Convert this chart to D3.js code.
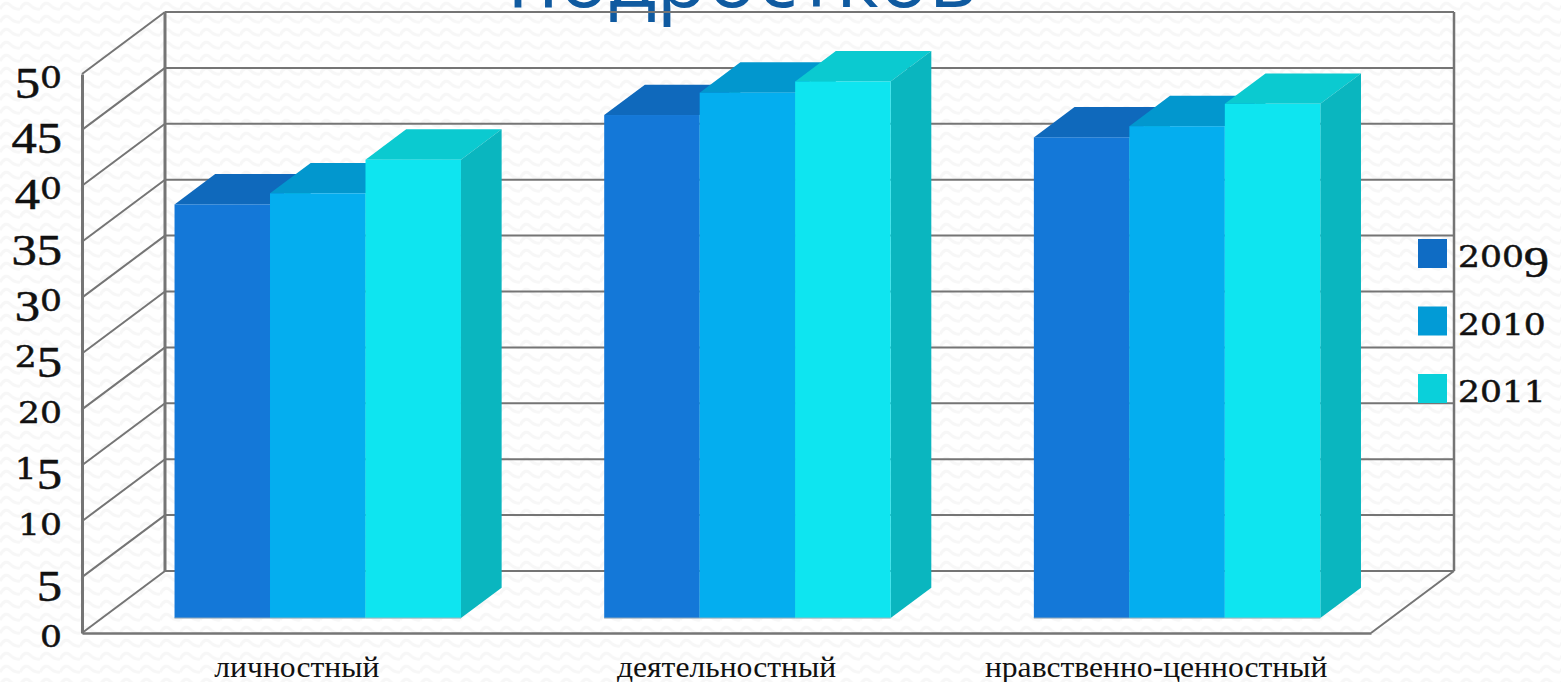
<!DOCTYPE html>
<html>
<head>
<meta charset="utf-8">
<script src="https://cdn.jsdelivr.net/npm/d3@7"></script>
<style>
  html, body { margin: 0; padding: 0; background: #fff; overflow: hidden; }
  svg { display: block; }
  .digits { fill: #111; stroke: #111; stroke-width: 0.5; }
</style>
</head>
<body>
<div id="graph"></div>
<script>
const categories = ["личностный", "деятельностный", "нравственно-ценностный"];
const years = ["2009", "2010", "2011"];
const values2009 = [37, 45, 43];
const values2010 = [38, 47, 44];
const values2011 = [41, 48, 46];
const yTicks = [0, 5, 10, 15, 20, 25, 30, 35, 40, 45, 50];
const titleText = "подростков";

const seriesValues = [values2009, values2010, values2011];
const frontColors = ["#1478d8", "#04aeef", "#0ee5f0"];
const topColors = ["#0f69bc", "#0297ce", "#0bcad0"];
const sideColor = "#0ab6bf";
const legendColors = ["#0f6cc4", "#029bd6", "#0ad0da"];
const gridColor = "#757575";

const width = 1561;
const height = 682;

// 3d box: floor goes back by depthX / depthY
const depthX = 83;
const depthY = 62;
const barZ0 = 0.24;
const barZ1 = 0.73;
const barShift = 1;

const svg = d3.select("#graph").append("svg")
  .attr("width", width)
  .attr("height", height);

// faint zigzag paper background
const pat = svg.append("defs").append("pattern")
  .attr("id", "paper")
  .attr("patternUnits", "userSpaceOnUse")
  .attr("width", 20)
  .attr("height", 13);
pat.append("rect").attr("width", 20).attr("height", 13).attr("fill", "#fff");
pat.append("path")
  .attr("d", "M0 9 Q5 0 10 5 T20 9")
  .attr("fill", "none")
  .attr("stroke", "#f7f7f7")
  .attr("stroke-width", 3);
svg.append("rect").attr("width", width).attr("height", height).attr("fill", "url(#paper)");

const x = d3.scaleBand()
  .domain(categories)
  .range([82, 1371])
  .paddingInner(1 / 3)
  .paddingOuter(1 / 6);

const xSeries = d3.scaleBand()
  .domain(years)
  .range([0, x.bandwidth()]);

const y = d3.scaleLinear()
  .domain([0, 50])
  .range([633, 74]);

const px = (v, z) => v + z * depthX;
const py = (v, z) => y(v) - z * depthY;
const poly = pts => pts.map(p => p.join(",")).join(" ");

// title sits behind the grid and is cut by the top of the page
svg.append("text")
  .attr("x", 742)
  .attr("y", 6.5)
  .attr("text-anchor", "middle")
  .attr("font-family", "'Open Sans', sans-serif")
  .attr("font-size", 83)
  .attr("font-weight", 500)
  .attr("fill", "#0f5aa0")
  .text(titleText);

// walls
const xLeft = x.range()[0];
const xRight = x.range()[1];
const walls = svg.append("g").attr("fill", "none").attr("stroke", gridColor);

yTicks.forEach(t => {
  walls.append("line")
    .attr("x1", xLeft).attr("y1", py(t, 0))
    .attr("x2", px(xLeft, 1)).attr("y2", py(t, 1))
    .attr("stroke-width", 2);
  walls.append("line")
    .attr("x1", px(xLeft, 1)).attr("y1", py(t, 1))
    .attr("x2", px(xRight, 1)).attr("y2", py(t, 1))
    .attr("stroke-width", 2);
});
walls.append("line")
  .attr("x1", px(xLeft, 1)).attr("y1", py(0, 1))
  .attr("x2", px(xLeft, 1)).attr("y2", py(50, 1))
  .attr("stroke-width", 3);
walls.append("line")
  .attr("x1", px(xRight, 1)).attr("y1", py(0, 1))
  .attr("x2", px(xRight, 1)).attr("y2", py(50, 1))
  .attr("stroke-width", 2.5);
walls.append("line")
  .attr("x1", xRight).attr("y1", py(0, 0))
  .attr("x2", px(xRight, 1)).attr("y2", py(0, 1))
  .attr("stroke-width", 2);

// bars
categories.forEach((cat, c) => {
  years.forEach((yr, s) => {
    const v = seriesValues[s][c];
    const x0 = x(cat) + xSeries(yr) + barShift;
    const x1 = x0 + xSeries.bandwidth();
    const g = svg.append("g");
    g.append("polygon")
      .attr("fill", topColors[s])
      .attr("points", poly([
        [px(x0, barZ0), py(v, barZ0)], [px(x1, barZ0), py(v, barZ0)],
        [px(x1, barZ1), py(v, barZ1)], [px(x0, barZ1), py(v, barZ1)]
      ]));
    g.append("polygon")
      .attr("fill", sideColor)
      .attr("points", poly([
        [px(x1, barZ0), py(v, barZ0)], [px(x1, barZ1), py(v, barZ1)],
        [px(x1, barZ1), py(0, barZ1)], [px(x1, barZ0), py(0, barZ0)]
      ]));
    g.append("rect")
      .attr("fill", frontColors[s])
      .attr("x", px(x0, barZ0))
      .attr("y", py(v, barZ0))
      .attr("width", xSeries.bandwidth())
      .attr("height", py(0, barZ0) - py(v, barZ0));
    // pale edge along the foot of the bar
    g.append("line")
      .attr("x1", px(x0, barZ0)).attr("y1", py(0, barZ0))
      .attr("x2", px(x1, barZ0)).attr("y2", py(0, barZ0))
      .attr("stroke", "#a9b4ba")
      .attr("stroke-width", 1);
  });
});

// old style figures: 0 1 2 are x-height, 3 4 5 7 9 hang below the baseline
function oldStyle(sel, text) {
  sel.text(null);
  let prevDrop = 0;
  text.split("").forEach(ch => {
    const small = "012".includes(ch);
    const drop = "34579".includes(ch) ? 10 : 0;
    sel.append("tspan")
      .attr("font-family", small ? "'DejaVu Serif', serif" : "'Liberation Serif', serif")
      .attr("font-size", small ? 30 : 44)
      .attr("dy", drop - prevDrop)
      .text(ch);
    prevDrop = drop;
  });
  const len = sel.node().getComputedTextLength();
  sel.attr("textLength", len * 1.15).attr("lengthAdjust", "spacingAndGlyphs");
}

// axes
const yAxis = svg.append("g")
  .attr("transform", "translate(" + xLeft + ",0)")
  .call(d3.axisLeft(y).tickValues(yTicks).tickSize(0).tickPadding(20));
yAxis.select(".domain").attr("stroke", gridColor).attr("stroke-width", 3);
yAxis.selectAll("text")
  .attr("class", "digits")
  .attr("dy", null)
  .attr("y", 13)
  .each(function (d) { oldStyle(d3.select(this), String(d)); });

const xAxis = svg.append("g")
  .attr("transform", "translate(0," + y(0) + ")")
  .call(d3.axisBottom(x).tickSize(0).tickPadding(23));
xAxis.select(".domain").attr("stroke", gridColor).attr("stroke-width", 2.5);
xAxis.selectAll("text")
  .attr("font-family", "'Liberation Serif', serif")
  .attr("font-size", 29)
  .attr("fill", "#111")
  .each(function () {
    const t = d3.select(this);
    t.attr("textLength", this.getComputedTextLength() * 1.09).attr("lengthAdjust", "spacingAndGlyphs");
  });

// legend
const legendY = d3.scalePoint().domain(years).range([253, 388]);
const legend = svg.append("g");
years.forEach((yr, s) => {
  legend.append("rect")
    .attr("x", 1418)
    .attr("y", legendY(yr) - 14)
    .attr("width", 29)
    .attr("height", 29)
    .attr("fill", legendColors[s]);
  const t = legend.append("text")
    .attr("class", "digits")
    .attr("x", 1458)
    .attr("y", legendY(yr) + 14);
  oldStyle(t, yr);
});
</script>
</body>
</html>
